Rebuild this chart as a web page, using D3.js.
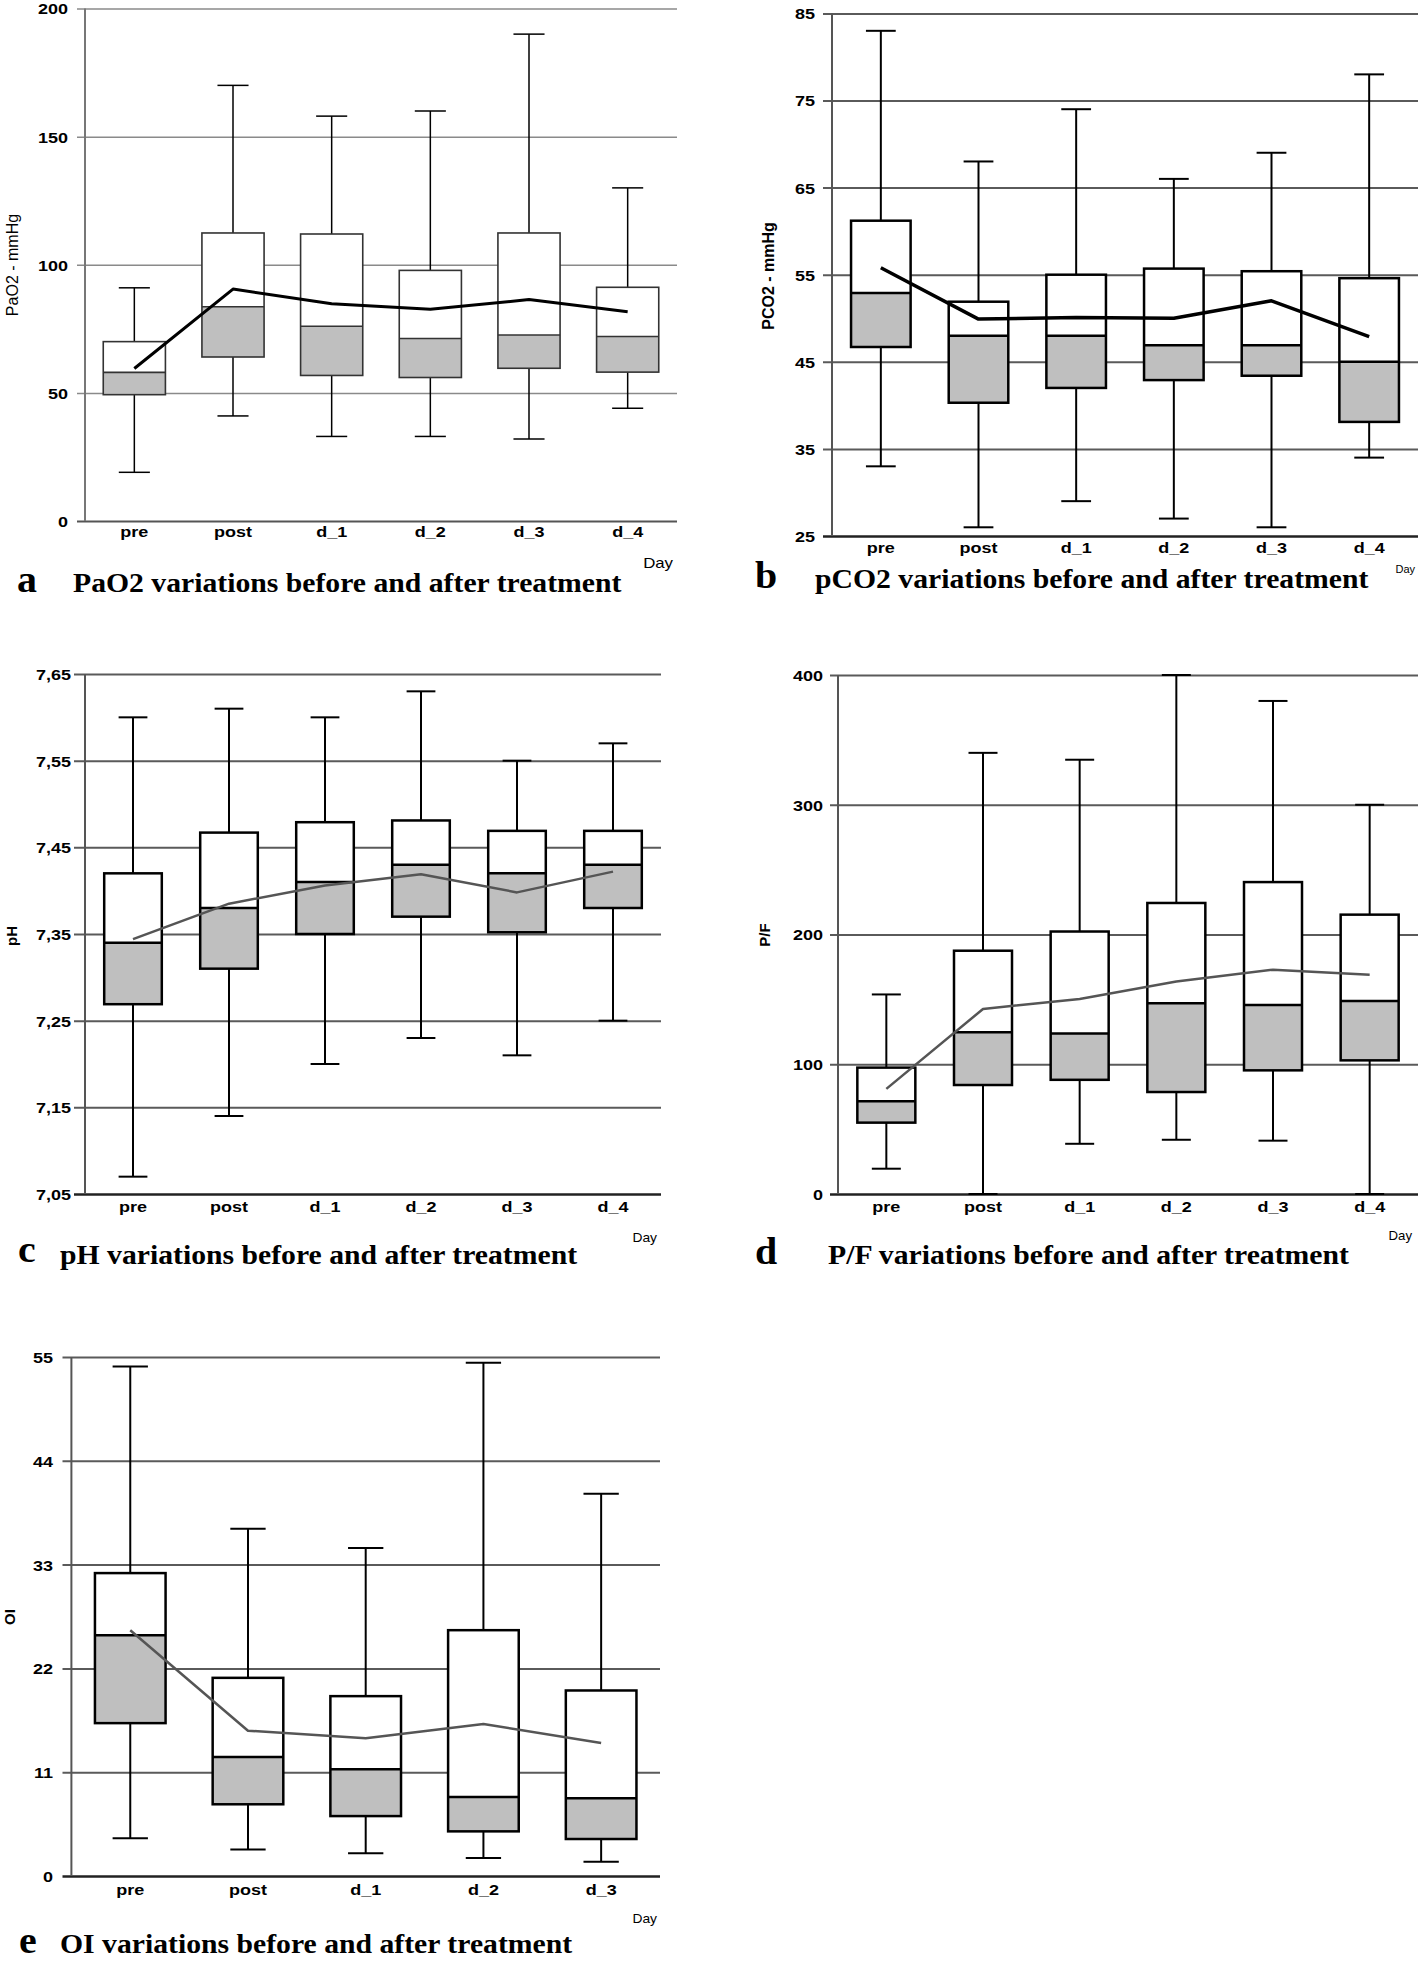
<!DOCTYPE html>
<html><head><meta charset="utf-8">
<script src="https://cdn.jsdelivr.net/npm/d3@7"></script>
<style>body{margin:0;background:#fff} svg{display:block}</style>
</head><body>
<svg id="chart" width="1418" height="1961"></svg>
<script>
// ---------- categories ----------
const days6 = ["pre", "post", "d_1", "d_2", "d_3", "d_4"];
const days5 = ["pre", "post", "d_1", "d_2", "d_3"];

// ---------- a: PaO2 ----------
const pao2Min    = [19, 41, 33, 33, 32, 44];
const pao2Q1     = [49.3, 64, 56.8, 56, 59.6, 58.1];
const pao2Median = [58, 83.6, 76, 71.2, 72.6, 72];
const pao2Q3     = [70, 112.4, 112, 97.8, 112.4, 91.2];
const pao2Max    = [91, 170, 158, 160, 190, 130];
const pao2Mean   = [59.5, 90.5, 84.8, 82.6, 86.4, 81.7];
const pao2Ticks  = [0, 50, 100, 150, 200];
const pao2TickLabels = ["0", "50", "100", "150", "200"];

// ---------- b: pCO2 ----------
const pco2Min    = [33, 26, 29, 27, 26, 34];
const pco2Q1     = [46.7, 40.3, 42, 42.9, 43.4, 38.1];
const pco2Median = [52.9, 48, 48, 46.9, 46.9, 45];
const pco2Q3     = [61.2, 51.9, 55, 55.7, 55.4, 54.6];
const pco2Max    = [83, 68, 74, 66, 69, 78];
const pco2Mean   = [55.8, 49.9, 50.1, 50, 52, 47.9];
const pco2Ticks  = [25, 35, 45, 55, 65, 75, 85];
const pco2TickLabels = ["25", "35", "45", "55", "65", "75", "85"];

// ---------- c: pH ----------
const phMin    = [7.07, 7.14, 7.20, 7.23, 7.21, 7.25];
const phQ1     = [7.269, 7.31, 7.35, 7.37, 7.352, 7.38];
const phMedian = [7.34, 7.38, 7.41, 7.43, 7.42, 7.43];
const phQ3     = [7.42, 7.467, 7.479, 7.481, 7.469, 7.469];
const phMax    = [7.60, 7.61, 7.60, 7.63, 7.55, 7.57];
const phMean   = [7.344, 7.385, 7.406, 7.419, 7.398, 7.422];
const phTicks  = [7.05, 7.15, 7.25, 7.35, 7.45, 7.55, 7.65];
const phTickLabels = ["7,05", "7,15", "7,25", "7,35", "7,45", "7,55", "7,65"];

// ---------- d: P/F ----------
const pfMin    = [19.5, 0, 38.7, 41.8, 41.1, 0];
const pfQ1     = [55, 84, 88, 78.6, 95.3, 103];
const pfMedian = [71.5, 124.7, 123.7, 147, 145.7, 148.8];
const pfQ3     = [97.4, 187.5, 202.3, 224.3, 240.4, 215.3];
const pfMax    = [153.8, 340, 334.7, 400, 380, 300];
const pfMean   = [81, 142.6, 150.3, 163.7, 172.9, 168.9];
const pfTicks  = [0, 100, 200, 300, 400];
const pfTickLabels = ["0", "100", "200", "300", "400"];

// ---------- e: OI ----------
const oiMin    = [4, 2.8, 2.4, 1.9, 1.5];
const oiQ1     = [16.2, 7.6, 6.35, 4.73, 3.92];
const oiMedian = [25.5, 12.6, 11.3, 8.36, 8.23];
const oiQ3     = [32.1, 21, 19.06, 26.05, 19.66];
const oiMax    = [54, 36.8, 34.75, 54.4, 40.5];
const oiMean   = [26.05, 15.4, 14.6, 16.1, 14.1];
const oiTicks  = [0, 11, 22, 33, 44, 55];
const oiTickLabels = ["0", "11", "22", "33", "44", "55"];

const svg = d3.select("#chart");
svg.append("rect").attr("width", 1418).attr("height", 1961).attr("fill", "#fff");

const SANS = "'Liberation Sans', Arial, Helvetica, sans-serif";
const SERIF = "'Liberation Serif', 'Times New Roman', serif";
const SX = 1.2;
const FS = 15;

function stext(g, x, y, str, o) {
  return g.append("text")
    .attr("transform", `translate(${x},${y}) scale(${o.sx || 1},1)`)
    .attr("text-anchor", o.anchor || "start")
    .attr("font-family", o.family || SANS)
    .attr("font-size", o.size)
    .attr("font-weight", o.weight || "normal")
    .attr("fill", o.fill || "#000")
    .text(str);
}

function drawPanel(c) {
  const g = svg.append("g");
  const y = d3.scaleLinear().domain([c.ticks[0], c.ticks[c.ticks.length - 1]]).range([c.bottom, c.top]);
  const x = d3.scaleBand().domain(c.cats).range([c.left, c.right])
    .paddingInner(c.pad).paddingOuter(c.pad / 2);
  const bw = x.bandwidth();
  const cx = d => x(d) + bw / 2;

  // gridlines + y tick labels
  const pad = c.tickStart - c.labelRight;
  const ax = g.append("g").attr("transform", `translate(${c.tickStart},0)`)
    .call(d3.axisLeft(y).tickValues(c.ticks).tickFormat((d, i) => c.tickLabels[i])
      .tickSizeInner(-(c.right - c.tickStart)).tickSizeOuter(0).tickPadding(pad));
  ax.select(".domain").remove();
  ax.selectAll(".tick line")
    .attr("stroke", (d, i) => i === 0 ? c.axisColor : c.gridColor)
    .attr("stroke-width", (d, i) => i === 0 ? c.axisWidth : c.gridWidth);
  ax.selectAll(".tick text")
    .attr("font-family", SANS).attr("font-size", FS).attr("font-weight", "bold")
    .attr("fill", "#000").attr("x", -pad / SX).attr("dy", "0.36em")
    .attr("transform", `scale(${SX},1)`);

  // vertical axis
  g.append("line").attr("x1", c.left).attr("x2", c.left)
    .attr("y1", y(c.ticks[c.ticks.length - 1])).attr("y2", y(c.ticks[0]))
    .attr("stroke", c.vAxisColor).attr("stroke-width", 2);

  // boxes
  c.cats.forEach((d, i) => {
    const xc = cx(d), cap = bw / 4;
    const wk = g.append("g").attr("stroke", "#000").attr("stroke-width", c.whiskerWidth);
    wk.append("line").attr("x1", xc).attr("x2", xc).attr("y1", y(c.q3[i])).attr("y2", y(c.max[i]));
    wk.append("line").attr("x1", xc - cap).attr("x2", xc + cap).attr("y1", y(c.max[i])).attr("y2", y(c.max[i]));
    wk.append("line").attr("x1", xc).attr("x2", xc).attr("y1", y(c.q1[i])).attr("y2", y(c.min[i]));
    wk.append("line").attr("x1", xc - cap).attr("x2", xc + cap).attr("y1", y(c.min[i])).attr("y2", y(c.min[i]));
    g.append("rect").attr("x", x(d)).attr("width", bw)
      .attr("y", y(c.q3[i])).attr("height", y(c.median[i]) - y(c.q3[i])).attr("fill", "#fff");
    g.append("rect").attr("x", x(d)).attr("width", bw)
      .attr("y", y(c.median[i])).attr("height", y(c.q1[i]) - y(c.median[i])).attr("fill", "#bfbfbf");
    g.append("rect").attr("x", x(d)).attr("width", bw)
      .attr("y", y(c.q3[i])).attr("height", y(c.q1[i]) - y(c.q3[i]))
      .attr("fill", "none").attr("stroke", c.boxColor).attr("stroke-width", c.boxWidth);
    g.append("line").attr("x1", x(d)).attr("x2", x(d) + bw)
      .attr("y1", y(c.median[i])).attr("y2", y(c.median[i]))
      .attr("stroke", c.boxColor).attr("stroke-width", c.boxWidth);
  });

  // mean line
  g.append("path").datum(c.mean)
    .attr("d", d3.line().x((v, i) => cx(c.cats[i])).y(v => y(v)))
    .attr("fill", "none").attr("stroke", c.meanColor).attr("stroke-width", c.meanWidth)
    .attr("stroke-linejoin", "round");

  // category labels
  const bx = g.append("g").attr("transform", `translate(0,${c.bottom})`)
    .call(d3.axisBottom(x).tickSize(0));
  bx.select(".domain").remove();
  bx.selectAll(".tick text")
    .attr("font-family", SANS).attr("font-size", FS).attr("font-weight", "bold").attr("fill", "#000")
    .attr("y", 0).attr("dy", null)
    .attr("transform", `translate(0,${c.catBaseline - c.bottom}) scale(${SX},1)`);

  // "Day"
  stext(g, c.dayRight, c.dayBaseline, "Day", {anchor: "end", size: c.daySize, sx: c.daySx});

  // y label
  g.append("text").attr("transform", `translate(${c.yLabelX},${c.yLabelY}) rotate(-90)`)
    .attr("text-anchor", "middle").attr("dominant-baseline", "central")
    .attr("font-family", SANS).attr("font-size", c.yLabelSize).attr("font-weight", c.yLabelWeight)
    .text(c.yLabel);

  // caption
  stext(g, c.letterX, c.letterBaseline, c.letter, {size: 38, weight: "bold", family: SERIF, sx: 1.05});
  stext(g, c.titleX, c.titleBaseline, c.title, {size: 27, weight: "bold", family: SERIF, sx: 1.1});
}

const thick = {gridColor: "#5a5a5a", gridWidth: 2, axisColor: "#222", axisWidth: 2.5, vAxisColor: "#555",
  boxColor: "#000", boxWidth: 2.5, whiskerWidth: 2, pad: 0.4};

drawPanel({
  cats: days6, min: pao2Min, q1: pao2Q1, median: pao2Median, q3: pao2Q3, max: pao2Max, mean: pao2Mean,
  ticks: pao2Ticks, tickLabels: pao2TickLabels,
  left: 85, right: 677, top: 8.5, bottom: 521, tickStart: 77, labelRight: 68, catBaseline: 537,
  dayRight: 673, dayBaseline: 568, daySize: 14, daySx: 1.2,
  yLabel: "PaO2 - mmHg", yLabelX: 12, yLabelY: 265, yLabelSize: 16, yLabelWeight: "normal",
  letter: "a", letterX: 17, letterBaseline: 592, title: "PaO2 variations before and after treatment", titleX: 73, titleBaseline: 592,
  gridColor: "#8a8a8a", gridWidth: 1.5, axisColor: "#555", axisWidth: 2, vAxisColor: "#777",
  boxColor: "#333", boxWidth: 1.6, whiskerWidth: 1.5, pad: 0.37, meanColor: "#000", meanWidth: 3
});

drawPanel(Object.assign({}, thick, {
  cats: days6, min: pco2Min, q1: pco2Q1, median: pco2Median, q3: pco2Q3, max: pco2Max, mean: pco2Mean,
  ticks: pco2Ticks, tickLabels: pco2TickLabels,
  left: 832, right: 1418, top: 13.4, bottom: 536, tickStart: 823, labelRight: 815, catBaseline: 553,
  dayRight: 1415, dayBaseline: 573, daySize: 11, daySx: 1,
  yLabel: "PCO2 - mmHg", yLabelX: 768, yLabelY: 276, yLabelSize: 16, yLabelWeight: "bold",
  letter: "b", letterX: 755, letterBaseline: 588, title: "pCO2 variations before and after treatment", titleX: 815, titleBaseline: 588,
  meanColor: "#000", meanWidth: 3.5, pad: 0.39
}));

drawPanel(Object.assign({}, thick, {
  cats: days6, min: phMin, q1: phQ1, median: phMedian, q3: phQ3, max: phMax, mean: phMean,
  ticks: phTicks, tickLabels: phTickLabels,
  left: 85, right: 661, top: 674, bottom: 1194, tickStart: 74, labelRight: 71, catBaseline: 1212,
  dayRight: 657, dayBaseline: 1242, daySize: 12, daySx: 1.15,
  yLabel: "pH", yLabelX: 11, yLabelY: 936, yLabelSize: 15, yLabelWeight: "bold",
  letter: "c", letterX: 18, letterBaseline: 1262, title: "pH variations before and after treatment", titleX: 60, titleBaseline: 1264,
  meanColor: "#555", meanWidth: 2.5
}));

drawPanel(Object.assign({}, thick, {
  cats: days6, min: pfMin, q1: pfQ1, median: pfMedian, q3: pfQ3, max: pfMax, mean: pfMean,
  ticks: pfTicks, tickLabels: pfTickLabels,
  left: 838, right: 1418, top: 675, bottom: 1194, tickStart: 830, labelRight: 823, catBaseline: 1212,
  dayRight: 1412, dayBaseline: 1240, daySize: 12, daySx: 1.1,
  yLabel: "P/F", yLabelX: 764, yLabelY: 935, yLabelSize: 15, yLabelWeight: "bold",
  letter: "d", letterX: 755, letterBaseline: 1264, title: "P/F variations before and after treatment", titleX: 828, titleBaseline: 1264,
  meanColor: "#555", meanWidth: 2.5
}));

drawPanel(Object.assign({}, thick, {
  cats: days5, min: oiMin, q1: oiQ1, median: oiMedian, q3: oiQ3, max: oiMax, mean: oiMean,
  ticks: oiTicks, tickLabels: oiTickLabels,
  left: 71.4, right: 660, top: 1357, bottom: 1876, tickStart: 62.5, labelRight: 53, catBaseline: 1895,
  dayRight: 657, dayBaseline: 1923, daySize: 12, daySx: 1.15,
  yLabel: "OI", yLabelX: 9, yLabelY: 1617, yLabelSize: 15, yLabelWeight: "bold",
  letter: "e", letterX: 19, letterBaseline: 1953, title: "OI variations before and after treatment", titleX: 60, titleBaseline: 1953,
  meanColor: "#555", meanWidth: 2.5
}));
</script>
</body></html>
